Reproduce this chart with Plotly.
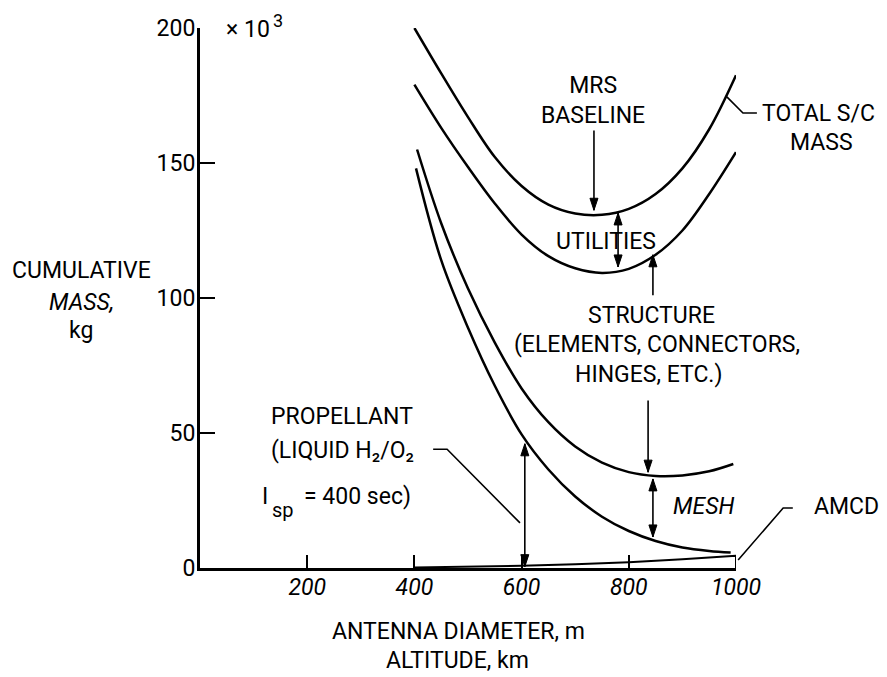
import plotly.graph_objects as go

# ---------------- data (kg x 10^3 vs antenna diameter, m) ----------------
total_x = [400, 450, 500, 550, 600, 650, 700, 750, 800, 850, 900, 950, 1000]
total_y = [200, 183.2, 167, 152.2, 141.5, 134.6, 131.3, 130.8, 133, 138.5, 148, 162.5, 182.5]

util_x = [400, 450, 500, 550, 600, 650, 700, 750, 800, 850, 900, 950, 1000]
util_y = [179, 163, 148.5, 135, 123.5, 115.5, 111, 109.3, 110.8, 116, 125, 138.5, 154]

struct_x = [405, 450, 500, 550, 600, 650, 700, 750, 800, 850, 900, 950, 995]
struct_y = [155, 127.7, 103.5, 83.5, 66.5, 54, 45, 39, 35.5, 34.1, 34.3, 35.8, 38.5]

mesh_x = [403, 450, 500, 550, 600, 650, 700, 750, 800, 850, 900, 950, 990]
mesh_y = [148, 114, 89, 67.5, 49.5, 36.5, 26.5, 19, 13.7, 10, 7.6, 6.3, 5.7]

amcd_x = [400, 500, 600, 700, 800, 900, 1000]
amcd_y = [0.2, 0.4, 0.8, 1.4, 2.1, 3.2, 4.5]

x_ticks = [200, 400, 600, 800, 1000]
y_ticks = [0, 50, 100, 150, 200]

FONT = "Roboto, Liberation Sans, sans-serif"
FS = 23
X_MAX, Y_MAX = 1000, 200
PLOT_W, PLOT_H = 536, 540   # plot area size in px

fig = go.Figure()
for xs, ys in [(total_x, total_y), (util_x, util_y), (struct_x, struct_y), (mesh_x, mesh_y)]:
    fig.add_trace(go.Scatter(x=xs, y=ys, mode="lines",
                             line=dict(color="black", width=2.5, shape="spline", smoothing=1.0),
                             hoverinfo="skip", showlegend=False))
# AMCD wedge (closed with vertical at the end)
fig.add_trace(go.Scatter(x=amcd_x + [amcd_x[-1]], y=amcd_y + [0], mode="lines",
                         line=dict(color="black", width=2), hoverinfo="skip", showlegend=False))


def px(x):
    return x / X_MAX


def py(y):
    return y / Y_MAX


def text(x, y, t, size=FS, italic=False, align="center"):
    fig.add_annotation(xref="paper", yref="paper", x=px(x), y=py(y), text=t, showarrow=False,
                       font=dict(family=FONT, size=size, color="black",
                                 style="italic" if italic else "normal"),
                       align=align, xanchor="center", yanchor="middle")


def head(x, y, direction):
    # filled triangle with tip at (x, y); direction +1 = pointing up, -1 = pointing down
    L, W = 12 / PLOT_H, 4 / PLOT_W
    xp, yp = px(x), py(y)
    yb = yp - direction * L
    path = f"M {xp},{yp} L {xp - W},{yb} L {xp + W},{yb} Z"
    fig.add_shape(type="path", xref="paper", yref="paper", path=path,
                  line=dict(color="black", width=1), fillcolor="black")


def arrow(x, y0, y1, both=False):
    # arrow from (x, y0) to head at (x, y1) in data units
    fig.add_shape(type="line", xref="paper", yref="paper", x0=px(x), x1=px(x),
                  y0=py(y0), y1=py(y1), line=dict(color="black", width=1.6))
    d = 1 if y1 > y0 else -1
    head(x, y1, d)
    if both:
        head(x, y0, -d)


def leader(points):
    path = "M " + " L ".join(f"{px(a)},{py(b)}" for a, b in points)
    fig.add_shape(type="path", xref="paper", yref="paper", path=path,
                  line=dict(color="black", width=1.6))


# arrows
arrow(735, 162, 132.5)
arrow(780, 111.5, 131.5, both=True)
arrow(845, 101, 116)
arrow(836, 62, 35.5)
arrow(845, 11.5, 33, both=True)
arrow(606, 0.5, 46, both=True)

# leader lines
leader([(983, 174.5), (1013, 168.5), (1039, 168.5)])
leader([(1004, 3), (1088, 22.2), (1106, 22.2)])
leader([(435, 44), (461, 44), (597, 16.7)])

# labels (positions in data units, may be outside the plot)
text(733, 173, "MRS<br>BASELINE")
text(757, 121, "UTILITIES")
text(1153, 168.5, "TOTAL S/C")
text(1160, 157.5, "MASS")
text(842, 93.7, "STRUCTURE")
text(852, 82.6, "(ELEMENTS, CONNECTORS,")
text(837, 71.5, "HINGES, ETC.)")
text(939, 22.6, "MESH", italic=True)
text(1207, 22.6, "AMCD")
text(265, 56, "PROPELLANT")
text(265, 43.7, "(LIQUID H₂/O₂")
text(121, 26.3, "I")
text(155, 21.5, "sp", size=20)
text(293, 26.3, "= 400 sec)")
text(90, 199.6, "× 10")
text(146, 202.8, "3", size=18)
text(-222, 110.2, "CUMULATIVE")
text(-222, 98.5, "MASS,", italic=True)
text(-222, 88, "kg")
text(483, -23.7, "ANTENNA DIAMETER, m")
text(481, -34.2, "ALTITUDE, km")

fig.update_xaxes(range=[0, X_MAX], tickvals=x_ticks, ticktext=[str(v) for v in x_ticks],
                 showline=True, linewidth=3, linecolor="black", ticks="inside", ticklen=13,
                 tickwidth=2, tickcolor="black", showgrid=False, zeroline=False,
                 tickfont=dict(family=FONT, size=FS, color="black", style="italic"),
                 ticklabelstandoff=-4)
fig.update_yaxes(range=[0, Y_MAX], tickvals=y_ticks, ticktext=[str(v) for v in y_ticks],
                 showline=True, linewidth=3, linecolor="black", ticks="inside", ticklen=15,
                 tickwidth=2, tickcolor="black", showgrid=False, zeroline=False,
                 tickfont=dict(family=FONT, size=FS, color="black"), ticklabelstandoff=-3)
fig.update_layout(width=887, height=677, margin=dict(l=200, r=151, t=28, b=109),
                  plot_bgcolor="white", paper_bgcolor="white", showlegend=False)

fig.write_html("out.html")
